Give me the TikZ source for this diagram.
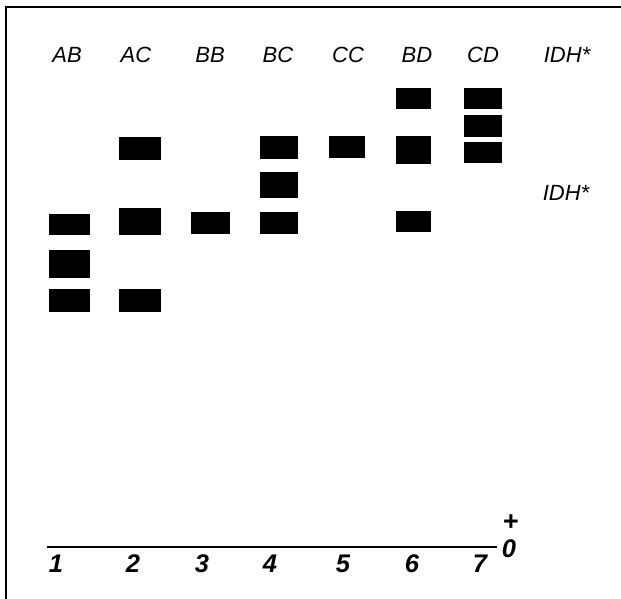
\documentclass[tikz,border=0pt]{standalone}
\usepackage{fontspec}
\setmainfont{Liberation Sans}
\begin{document}
\begin{tikzpicture}[x=1pt,y=-1pt,
  lbl/.style={inner sep=0pt, font=\fontsize{22}{22}\selectfont\itshape},
  num/.style={inner sep=0pt, font=\fontsize{25.5}{25.5}\selectfont\bfseries\itshape},
  band/.style={fill=black},
  frameline/.style={line width=2.2pt, line cap=rect},
  baseline/.style={line width=2.2pt}]
\useasboundingbox[fill=white] (0,0) rectangle (621,599);
% frame
\coordinate (fbl) at (6,599);
\coordinate (ftl) at (6,7);
\coordinate (ftr) at (621,7);
\draw[frameline] (fbl) -- (ftl) -- (ftr);
% top labels
\node[lbl] (tAB) at (67,55) {AB};
\node[lbl] (tAC) at (136,55) {AC};
\node[lbl] (tBB) at (210,55) {BB};
\node[lbl] (tBC) at (278,55) {BC};
\node[lbl] (tCC) at (348,55) {CC};
\node[lbl] (tBD) at (417,55) {BD};
\node[lbl] (tCD) at (483,55) {CD};
\node[lbl] (tIDH) at (567,55) {IDH*};
\node[lbl] (mIDH) at (566,193) {IDH*};
% bands
\fill[band] (49,214) rectangle (90,235);
\fill[band] (49,250) rectangle (90,278);
\fill[band] (49,289) rectangle (90,312);
\fill[band] (119,137) rectangle (161,160);
\fill[band] (119,208) rectangle (161,235);
\fill[band] (119,289) rectangle (161,312);
\fill[band] (191,212) rectangle (230,234);
\fill[band] (260,136) rectangle (298,159);
\fill[band] (260,172) rectangle (298,198);
\fill[band] (260,212) rectangle (298,234);
\fill[band] (329,136) rectangle (365,158);
\fill[band] (396,88) rectangle (431,109);
\fill[band] (396,136) rectangle (431,164);
\fill[band] (396,211) rectangle (431,232);
\fill[band] (464,88) rectangle (502,109);
\fill[band] (464,115) rectangle (502,137);
\fill[band] (464,142) rectangle (502,163);
% baseline
\coordinate (bl) at (47,547);
\coordinate (br) at (497,547);
\draw[baseline] (bl) -- (br);
% lane numbers
\node[num] (n1) at (56,564) {1};
\node[num] (n2) at (133,564) {2};
\node[num] (n3) at (202,564) {3};
\node[num] (n4) at (270,564) {4};
\node[num] (n5) at (343,564) {5};
\node[num] (n6) at (412,564) {6};
\node[num] (n7) at (480,564) {7};
\node[num, anchor=north] (zero) at (509,539) {0};
\node[num, font=\fontsize{27}{27}\selectfont\bfseries, anchor=center] (plus) at (511,523) {+};
\end{tikzpicture}
\end{document}
